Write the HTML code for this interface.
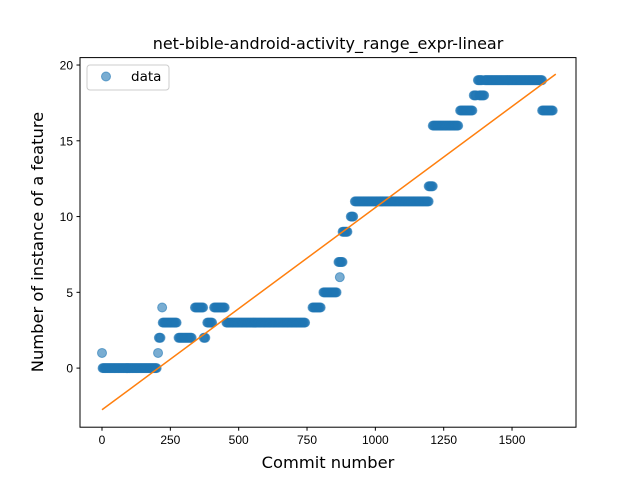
<!DOCTYPE html>
<html><head><meta charset="utf-8"><style>
body{margin:0;background:#fff;}
svg text{font-family:"Liberation Sans","DejaVu Sans",sans-serif;}
svg text.big{font-family:"DejaVu Sans","Liberation Sans",sans-serif;}
</style></head><body>
<svg id="chart" width="640" height="480">
<rect width="640" height="480" fill="#fff"/>
<text class="big" x="328" y="49" text-anchor="middle" font-size="16">net-bible-android-activity_range_expr-linear</text>
<g id="marks"></g>
<rect x="80" y="57.6" width="496" height="369.6" fill="none" stroke="#000" stroke-width="1"/>
<g id="axes"></g>
<text class="big" x="328" y="468" text-anchor="middle" font-size="16.3">Commit number</text>
<text class="big" transform="translate(43,242) rotate(-90)" text-anchor="middle" font-size="16.3">Number of instance of a feature</text>
<g>
<rect x="87" y="65" width="82" height="25" rx="3" fill="#fff" stroke="#ccc"/>
<circle cx="106" cy="76.5" r="4.5" fill="#1f77b4" fill-opacity="0.6" stroke="#1f77b4" stroke-opacity="0.6"/>
<text class="big" x="131" y="81" font-size="13.5">data</text>
</g>
</svg>
<script>
const segStart=[0,2,205,208,220,222,280,340,372,385,410,455,770,810,870,865,880,910,925,1195,1210,1310,1360,1375,1380,1400,1610];
const segEnd=[0,200,205,215,220,275,330,370,380,405,450,745,800,860,870,880,900,920,1195,1210,1305,1355,1370,1390,1400,1610,1650];
const segValue=[1,0,1,2,4,3,2,4,2,3,4,3,4,5,6,7,9,10,11,12,16,17,18,19,18,19,17];
const fitX=[0,1660];
const fitY=[-2.75,19.4];
const xTicks=[0,250,500,750,1000,1250,1500];
const yTicks=[0,5,10,15,20];
const X0=80,X1=576,Y0=427.2,Y1=57.6,xmin=-80.5,xmax=1734,ymin=-3.9,ymax=20.49;
const sx=v=>X0+(v-xmin)/(xmax-xmin)*(X1-X0);
const sy=v=>Y0-(v-ymin)/(ymax-ymin)*(Y0-Y1);
const NS="http://www.w3.org/2000/svg";
const marks=document.getElementById('marks'),axes=document.getElementById('axes');
for(let i=0;i<segStart.length;i++){
  for(let c=segStart[i];c<=segEnd[i];c+=3){
    const p=document.createElementNS(NS,'circle');
    p.setAttribute('cx',sx(c));p.setAttribute('cy',sy(segValue[i]));p.setAttribute('r',4.5);
    p.setAttribute('fill','#1f77b4');p.setAttribute('fill-opacity','0.6');
    p.setAttribute('stroke','#1f77b4');p.setAttribute('stroke-opacity','0.6');
    
    
    marks.appendChild(p);
  }
}
const ln=document.createElementNS(NS,'line');
ln.setAttribute('x1',sx(fitX[0]));ln.setAttribute('y1',sy(fitY[0]));
ln.setAttribute('x2',sx(fitX[1]));ln.setAttribute('y2',sy(fitY[1]));
ln.setAttribute('stroke','#ff7f0e');ln.setAttribute('stroke-width','1.5');


marks.appendChild(ln);
xTicks.forEach(t=>{
  const x=sx(t);
  const l=document.createElementNS(NS,'line');
  l.setAttribute('x1',x);l.setAttribute('x2',x);l.setAttribute('y1',Y0);l.setAttribute('y2',Y0+3.5);l.setAttribute('stroke','#000');
  
  
  axes.appendChild(l);
  const tx=document.createElementNS(NS,'text');
  tx.setAttribute('x',x);tx.setAttribute('y',Y0+17);tx.setAttribute('text-anchor','middle');tx.setAttribute('font-size','12');
  tx.textContent=t;
  
  
  axes.appendChild(tx);
});
yTicks.forEach(t=>{
  const y=sy(t);
  const l=document.createElementNS(NS,'line');
  l.setAttribute('x1',X0-3.5);l.setAttribute('x2',X0);l.setAttribute('y1',y);l.setAttribute('y2',y);l.setAttribute('stroke','#000');
  
  
  axes.appendChild(l);
  const tx=document.createElementNS(NS,'text');
  tx.setAttribute('x',X0-7);tx.setAttribute('y',y+4.5);tx.setAttribute('text-anchor','end');tx.setAttribute('font-size','12');
  tx.textContent=t;
  
  
  axes.appendChild(tx);
});
</script>
</body></html>
